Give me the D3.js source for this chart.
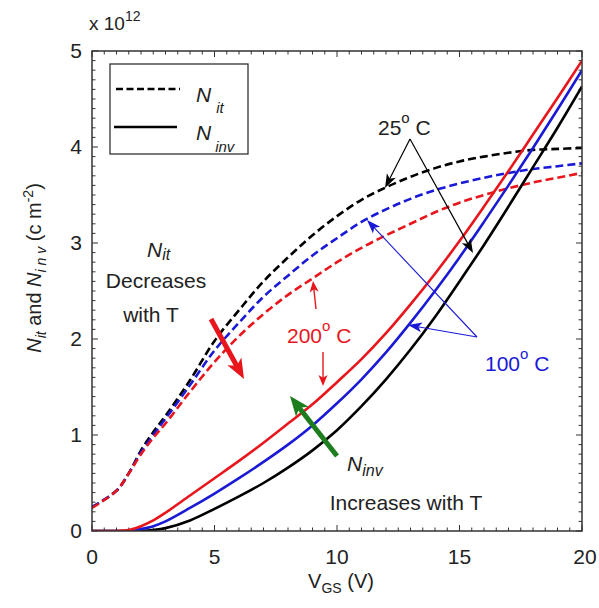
<!DOCTYPE html>
<html><head><meta charset="utf-8">
<script src="https://cdn.jsdelivr.net/npm/d3@7"></script>
<style>
body{margin:0;background:#fff;}
svg{display:block;font-family:"Liberation Sans",Arial,sans-serif;}
</style></head>
<body><svg id="c" width="599" height="608"></svg>
<script>
// ---- data ----
const vgs = [0,1,1.5,2,2.5,3,4,5,6,7,8,9,10,11,12,13,14,15,16,17,18,19,20];
const nit25  = [0.25,0.42,0.6,0.84,1.03,1.2,1.57,1.98,2.3,2.6,2.85,3.08,3.28,3.45,3.58,3.69,3.78,3.85,3.9,3.94,3.97,3.98,3.99];
const nit100 = [0.25,0.42,0.6,0.82,1.0,1.17,1.52,1.88,2.17,2.44,2.66,2.87,3.05,3.22,3.35,3.46,3.55,3.62,3.68,3.73,3.77,3.8,3.83];
const nit200 = [0.24,0.42,0.6,0.8,0.97,1.12,1.45,1.76,2.03,2.26,2.46,2.63,2.8,2.95,3.08,3.2,3.32,3.42,3.5,3.57,3.63,3.68,3.73];
const ninv25  = [0,0,0,0,0.01,0.03,0.11,0.23,0.36,0.5,0.66,0.84,1.05,1.3,1.58,1.89,2.23,2.6,2.98,3.38,3.79,4.2,4.63];
const ninv100 = [0,0,0,0.02,0.05,0.1,0.24,0.39,0.55,0.72,0.9,1.1,1.33,1.58,1.86,2.17,2.5,2.85,3.22,3.6,3.99,4.39,4.8];
const ninv200 = [0,0,0.01,0.05,0.11,0.19,0.37,0.55,0.73,0.92,1.12,1.32,1.55,1.79,2.06,2.36,2.68,3.02,3.38,3.75,4.13,4.51,4.9];
const xTicks = [0,5,10,15,20];
const yTicks = [0,1,2,3,4,5];

const seriesDefs = [
  {v:nit25, color:"#000000", dash:true},
  {v:nit100, color:"#1a1ad6", dash:true},
  {v:nit200, color:"#e8161c", dash:true},
  {v:ninv25, color:"#000000", dash:false},
  {v:ninv100, color:"#1a1ad6", dash:false},
  {v:ninv200, color:"#e8161c", dash:false}
];

const L=92,R=582,T=51,B=531;
const x=d3.scaleLinear().domain([0,20]).range([L,R]);
const y=d3.scaleLinear().domain([0,5]).range([B,T]);
const svg=d3.select("#c");
const defs=svg.append("defs");
defs.append("clipPath").attr("id","clip").append("rect").attr("x",L).attr("y",T-2).attr("width",R-L).attr("height",B-T+2);

// ticks (inward, all four sides)
const tk=svg.append("g").attr("stroke","#333").attr("stroke-width",1);
d3.range(0,20.001,0.5).forEach(v=>{
  const len=(Math.abs(v%5)<1e-6)?6:3.5;
  tk.append("line").attr("x1",x(v)).attr("x2",x(v)).attr("y1",B).attr("y2",B-len);
  tk.append("line").attr("x1",x(v)).attr("x2",x(v)).attr("y1",T).attr("y2",T+len);
});
d3.range(0,5.0001,0.1).forEach(v=>{
  const len=(Math.abs(v-Math.round(v))<1e-6)?6:3.5;
  tk.append("line").attr("y1",y(v)).attr("y2",y(v)).attr("x1",L).attr("x2",L+len);
  tk.append("line").attr("y1",y(v)).attr("y2",y(v)).attr("x1",R).attr("x2",R-len);
});

// curves
const line=d3.line().x((d,i)=>x(vgs[i])).y(d=>y(d)).curve(d3.curveCatmullRom.alpha(0.5));
const cg=svg.append("g").attr("clip-path","url(#clip)");
seriesDefs.forEach(s=>{
  cg.append("path").datum(s.v).attr("d",line).attr("fill","none")
    .attr("stroke",s.color).attr("stroke-width",2.6)
    .attr("stroke-dasharray",s.dash?"8,4":null);
});

// frame
svg.append("rect").attr("x",L).attr("y",T).attr("width",R-L).attr("height",B-T)
  .attr("fill","none").attr("stroke","#333").attr("stroke-width",1.5);

// tick labels
const tl=svg.append("g").attr("fill","#222").attr("font-size",21);
xTicks.forEach(v=>tl.append("text").attr("x",x(v)+(v===20?3:0)).attr("y",B+33).attr("text-anchor","middle").text(v));
yTicks.forEach(v=>tl.append("text").attr("x",L-10).attr("y",y(v)+7).attr("text-anchor","end").text(v));

// x 10^12
const ex=svg.append("text").attr("x",89).attr("y",30).attr("font-size",19).attr("fill","#222");
ex.append("tspan").text("x 10");
ex.append("tspan").attr("dy",-9).attr("font-size",14).text("12");

// axis labels
const xl=svg.append("text").attr("x",341).attr("y",588).attr("text-anchor","middle").attr("font-size",20).attr("fill","#222");
xl.append("tspan").text("V");
xl.append("tspan").attr("dy",5).attr("font-size",14).text("GS");
xl.append("tspan").attr("dy",-5).text(" (V)");

const yl=svg.append("text").attr("transform","translate(41,268) rotate(-90)").attr("text-anchor","middle").attr("font-size",20).attr("fill","#222");
yl.append("tspan").attr("font-style","italic").text("N");
yl.append("tspan").attr("dy",5).attr("font-size",14).attr("font-style","italic").text("it");
yl.append("tspan").attr("dy",-5).text(" and ");
yl.append("tspan").attr("font-style","italic").text("N");
yl.append("tspan").attr("dy",5).attr("font-size",14).attr("font-style","italic").text("i n v");
yl.append("tspan").attr("dy",-5).text(" (c m");
yl.append("tspan").attr("dy",-8).attr("font-size",14).text("-2");
yl.append("tspan").attr("dy",8).text(")");

// legend
const lg=svg.append("g");
lg.append("rect").attr("x",110).attr("y",64).attr("width",138).attr("height",90).attr("fill","#fff").attr("stroke","#333").attr("stroke-width",1.3);
lg.append("line").attr("x1",116).attr("x2",180).attr("y1",89).attr("y2",89).attr("stroke","#000").attr("stroke-width",2.4).attr("stroke-dasharray","7,3.5");
lg.append("line").attr("x1",114).attr("x2",177).attr("y1",127).attr("y2",127).attr("stroke","#000").attr("stroke-width",2.6);
const l1=lg.append("text").attr("x",196).attr("y",102).attr("font-size",21).attr("font-style","italic").attr("fill","#222");
l1.append("tspan").text("N");
l1.append("tspan").attr("dx",5).attr("dy",11).attr("font-size",15).text("it");
const l2=lg.append("text").attr("x",196).attr("y",140).attr("font-size",21).attr("font-style","italic").attr("fill","#222");
l2.append("tspan").text("N");
l2.append("tspan").attr("dx",4).attr("dy",12).attr("font-size",15).text("inv");

// arrow helper
function arrow(g,x1,y1,x2,y2,color,w,hl,hw){
  const dx=x2-x1,dy=y2-y1,len=Math.hypot(dx,dy),ux=dx/len,uy=dy/len,px=-uy,py=ux;
  const bx=x2-ux*hl,by=y2-uy*hl;
  g.append("line").attr("x1",x1).attr("y1",y1).attr("x2",x2-ux*hl*0.6).attr("y2",y2-uy*hl*0.6)
    .attr("stroke",color).attr("stroke-width",w);
  const nx=x2-ux*hl*0.75,ny=y2-uy*hl*0.75;
  g.append("path").attr("d",`M${x2},${y2}L${bx+px*hw},${by+py*hw}L${nx},${ny}L${bx-px*hw},${by-py*hw}Z`).attr("fill",color);
}
const ag=svg.append("g");
// 25C
arrow(ag,410,139,385,188,"#000",1.2,14,5);
arrow(ag,410,139,473,253,"#000",1.2,14,5);
// 100C
arrow(ag,477,337,367,220,"#1a1ad6",1.1,14,5);
arrow(ag,477,337,408,325,"#1a1ad6",1.1,14,5);
// 200C
arrow(ag,316,309,313,281,"#e8161c",1.4,11,4.5);
arrow(ag,323,352,323,386,"#e8161c",1.4,11,4.5);
// thick arrows
arrow(ag,211,319,244,379,"#e8161c",5,20,8);
arrow(ag,337,456,290,396,"#1e7d1e",5,20,8);

// annotations
const an=svg.append("g").attr("font-size",21).attr("fill","#222");
const a1=an.append("text").attr("x",147).attr("y",257).attr("font-style","italic");
a1.append("tspan").text("N");
a1.append("tspan").attr("dy",3).attr("font-size",16).text("it");
an.append("text").attr("x",156).attr("y",288).attr("text-anchor","middle").text("Decreases");
an.append("text").attr("x",151).attr("y",322).attr("text-anchor","middle").text("with T");
const a2=an.append("text").attr("x",347).attr("y",471).attr("font-style","italic");
a2.append("tspan").text("N");
a2.append("tspan").attr("dy",5).attr("font-size",16).text("inv");
an.append("text").attr("x",406).attr("y",510).attr("text-anchor","middle").text("Increases with T");

function degLabel(xx,yy,num,color){
  const t=svg.append("text").attr("x",xx).attr("y",yy).attr("font-size",21).attr("fill",color);
  t.append("tspan").text(num);
  t.append("tspan").attr("dy",-12).attr("font-size",15).text("o");
  t.append("tspan").attr("dy",12).text(" C");
}
degLabel(378,135,"25","#222");
degLabel(287,343,"200","#e8161c");
degLabel(485,371,"100","#1a1ad6");
</script></body></html>
